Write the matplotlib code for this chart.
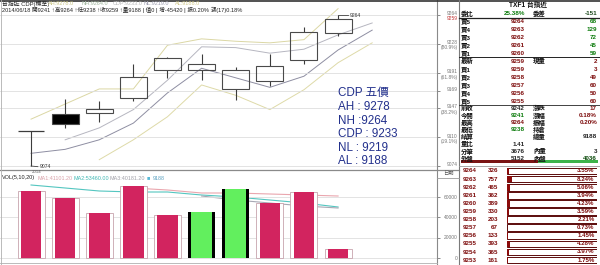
import numpy as np
import matplotlib
matplotlib.use("Agg")
import matplotlib.pyplot as plt
import matplotlib.transforms as mtrans

plt.rcParams['font.family'] = ['Liberation Sans', 'Noto Sans CJK TC', 'DejaVu Sans']

# daily bars, 台指近
opens  = [9118, 9140, 9141, 9160, 9195, 9195, 9171, 9181, 9207, 9241]
highs  = [9118, 9158, 9156, 9202, 9211, 9215, 9199, 9215, 9249, 9264]
lows   = [9074, 9122, 9129, 9156, 9185, 9182, 9157, 9175, 9202, 9238]
closes = [9118, 9127, 9146, 9186, 9210, 9202, 9195, 9200, 9243, 9259]

# channel lines (the last point runs one bar ahead)
band_upper = [9133, 9152, 9171, 9171, 9226, 9234, 9231, 9229, 9233, 9272]
band_mid1  = [np.nan, 9107, 9122, 9145, 9182, 9224, 9223, 9216, 9221, 9239, 9254]
band_mid2  = [9090, 9095, 9107, 9128, 9166, 9197, 9185, 9173, 9187, 9220, 9245]
band_lower = [np.nan, np.nan, 9082, 9107, 9136, 9176, 9163, 9145, 9170, 9204, 9229]

# fibonacci levels on the price axis
fib_levels = [9264, 9228, 9191, 9169, 9147, 9110, 9074]
fib_pct    = ['', '(80.9%)', '(61.8%)', '', '(38.2%)', '(19.1%)', '']

# volume
volumes  = [66000, 59100, 44300, 70900, 42400, 45300, 68000, 54200, 65000, 9188]
vol_red  = [True, True, True, True, True, False, False, True, True, True]
vol_ma1  = [np.nan, np.nan, np.nan, 68950, 66980, 64025, 64025, 63040, 62055, 61070]
vol_ma2  = [71905, 68950, 66000, 65010, 65010, 62055, 60085, 57130, 54175, 50235]
vol_ma3  = [np.nan] * 5 + [61070, 57130, 54175, 51220, 49250]
vol_ticks = [0, 20000, 40000, 60000]

# CDP five prices
cdp_names  = ['AH', 'NH', 'CDP', 'NL', 'AL']
cdp_seps   = [' : ', ' :', ' : ', ' : ', ' : ']
cdp_values = [9278, 9264, 9233, 9219, 9188]

# quote board
ask_labels = ['賣5', '賣4', '賣3', '賣2', '賣1']
ask_prices = [9264, 9263, 9262, 9261, 9260]
ask_qty    = [68, 129, 72, 45, 59]
bid_labels = ['買1', '買2', '買3', '買4', '買5']
bid_prices = [9259, 9258, 9257, 9256, 9255]
bid_qty    = [3, 49, 60, 50, 60]
outer_vol, inner_vol = 5152, 4036

# price ladder
ladder_prices = [9264, 9263, 9262, 9261, 9260, 9259, 9258, 9257, 9256, 9255, 9254, 9253]
ladder_vol    = [326, 757, 465, 362, 389, 330, 203, 67, 133, 393, 365, 161]
ladder_pct    = [3.55, 8.24, 5.06, 3.94, 4.23, 3.59, 2.21, 0.73, 1.45, 4.28, 3.97, 1.75]

MAROON = '#7c0a0a'
GREEN = '#0a7a0a'
W, H = 600, 265
fig = plt.figure(figsize=(6, 2.65), dpi=100)
fig.patch.set_facecolor('white')


def px_axes(x0, y0, x1, y1):
    return fig.add_axes([x0 / W, 1 - y1 / H, (x1 - x0) / W, (y1 - y0) / H])


n = len(opens)
idx = np.arange(n)
idx_ext = np.arange(n + 1)

# ---------------- price panel ----------------
ax = px_axes(0, 0, 437, 170)
ax.set_xlim(-0.91, 11.9)
ax.set_ylim(9069.0, 9282.9)
for s in ['top', 'left', 'bottom']:
    ax.spines[s].set_visible(False)
ax.spines['right'].set_color('#8a8a8a')
ax.spines['right'].set_linewidth(0.8)
ax.set_xticks([])
ax.set_yticks(fib_levels)
ax.tick_params(axis='y', left=False, right=True, labelleft=False, length=2.5,
               width=0.6, color='#777777')
ax.grid(axis='y', color='#dedede', lw=0.6)

ax.plot(idx[:len(band_upper)], band_upper, color='#dbd7a4', lw=0.7, zorder=1)
ax.plot(idx_ext, band_mid1, color='#b6b6c0', lw=0.7, zorder=1)
ax.plot(idx_ext, band_mid2, color='#8e8ea2', lw=0.7, zorder=1)
ax.plot(idx_ext, band_lower, color='#dedaa8', lw=0.7, zorder=1)

for i in range(n):
    o, h, l, c = opens[i], highs[i], lows[i], closes[i]
    top, bot = max(o, c), min(o, c)
    ax.vlines(i, top, h, color='#3c3c3c', lw=0.8, zorder=2)
    ax.vlines(i, l, bot, color='#3c3c3c', lw=0.8, zorder=2)
    if c == o:
        ax.hlines(c, i - 0.39, i + 0.39, color='#3c3c3c', lw=0.9, zorder=3)
    else:
        ax.bar(i, top - bot, bottom=bot, width=0.79,
               facecolor='black' if c < o else 'none',
               edgecolor='#4a4a4a', lw=0.8, zorder=3)

# high / low markers
hi = int(np.argmax(highs))
lo = int(np.argmin(lows))
ax.plot([hi, hi + 0.3], [highs[hi], highs[hi]], color='#444444', lw=0.6)
ax.text(hi + 0.33, highs[hi], str(highs[hi]), fontsize=3.6, va='center', color='#333333')
ax.plot([lo, lo + 0.2], [lows[lo], lows[lo] - 0.8], color='#444444', lw=0.6)
ax.text(lo + 0.25, lows[lo] - 0.8, str(lows[lo]), fontsize=3.6, va='center', color='#333333')

blend = mtrans.blended_transform_factory(ax.transAxes, ax.transData)
xlab = 457.5 / 437
for lvl, pct in zip(fib_levels, fib_pct):
    ax.annotate(str(lvl), xy=(xlab, lvl), xycoords=blend, xytext=(0, 0.9),
                textcoords='offset points', ha='right', va='center',
                fontsize=3.5, color='#777777', annotation_clip=False)
    if pct:
        ax.annotate(pct, xy=(xlab, lvl), xycoords=blend, xytext=(0, -2.9),
                    textcoords='offset points', ha='right', va='center',
                    fontsize=3.5, color='#777777', annotation_clip=False)
ax.annotate(str(closes[-1]), xy=(xlab, closes[-1]), xycoords=blend, xytext=(0, 0),
            textcoords='offset points', ha='right', va='center',
            fontsize=3.5, color='#c03030', annotation_clip=False)

# ---------------- volume panel ----------------
vax = px_axes(0, 170, 437, 265)
vax.set_xlim(-0.91, 11.9)
vax.set_ylim(-6895, 86680)
for s in ['top', 'left', 'bottom']:
    vax.spines[s].set_visible(False)
vax.spines['right'].set_color('#8a8a8a')
vax.spines['right'].set_linewidth(0.8)
vax.set_xticks([])
vax.set_yticks(vol_ticks)
vax.tick_params(axis='y', left=False, right=True, labelleft=False, length=2.5,
                width=0.6, color='#777777')
vax.grid(axis='y', color='#dedede', lw=0.6)

vax.plot(idx, vol_ma1, color='#eaa6ae', lw=0.8, zorder=1)
vax.plot(idx, vol_ma2, color='#54c6c0', lw=0.8, zorder=1)
vax.plot(idx, vol_ma3, color='#a8a8b4', lw=0.8, zorder=1)

for i in range(n):
    if vol_red[i]:
        vax.bar(i, volumes[i], width=0.79, color='white', edgecolor='#c7a3ad', lw=0.6, zorder=2)
        vax.bar(i, volumes[i], width=0.6, color='#d2245f', zorder=3)
    else:
        vax.bar(i, volumes[i], width=0.79, color='black', zorder=2)
        vax.bar(i, volumes[i], width=0.6, color='#62ef5e', zorder=3)

vblend = mtrans.blended_transform_factory(vax.transAxes, vax.transData)
for t in vol_ticks:
    vax.text(xlab, t, str(t), transform=vblend, ha='right', va='center',
             fontsize=3.5, color='#777777', clip_on=False)

# ---------------- ladder bars ----------------
lax = px_axes(507, 166.95, 597, 264.15)
rows = np.arange(len(ladder_prices))
lax.set_ylim(len(rows) - 0.5, -0.5)
lax.set_xlim(0, 150)
lax.axis('off')
lax.barh(rows, 150, height=0.82, color='white', edgecolor='#5a0a0a', lw=0.7)
lax.barh(rows, ladder_pct, height=0.82, color='#8b0b0b')
for r, p in zip(rows, ladder_pct):
    lax.text(146, r, f'{p:.2f}%', ha='right', va='center', fontsize=4.4,
             fontweight='bold', color=MAROON)

# inner / outer volume strip
bax = px_axes(461, 159.6, 598, 163.0)
bax.set_xlim(0, outer_vol + inner_vol)
bax.axis('off')
bax.barh(0, outer_vol, height=1, color='#7a1414')
bax.barh(0, inner_vol, left=outer_vol, height=1, color='#3db34a')

# ---------------- overlay: headers, table text ----------------
ov = px_axes(0, 0, 600, 265)
ov.set_xlim(0, 600)
ov.set_ylim(265, 0)
ov.axis('off')
ov.patch.set_alpha(0)

ov.plot([0, 600], [0.6, 0.6], color='#333333', lw=1.2)
ov.plot([0, 459], [170.2, 170.2], color='#8a8a8a', lw=0.9)
ov.plot([459, 459], [0, 265], color='#7a7a7a', lw=0.8)
ov.plot([437, 459], [177.5, 177.5], color='#9a9a9a', lw=0.6)
ov.plot([0, 437], [262.5, 262.5], color='#b0b0b0', lw=0.6)
ov.plot([1, 1], [0, 265], color='#b0b0b0', lw=0.6)

ov.text(2, 3.6, '台指近 CDP(標準)', fontsize=4.2, va='center', color='#222222')
hdr_cols = ['#c9c483', '#9fb59c', '#b9b9b9', '#9c9cae', '#d3ca8a']
hdr_x = [48, 82, 113, 143, 175]
for nm, v, cx, cc in zip(cdp_names, cdp_values, hdr_x, hdr_cols):
    ov.text(cx, 3.6, f'{nm}:{v}.0', fontsize=4.0, va='center', color=cc)
ov.text(2, 10.2, '2014/06/18 開9241 ↑高9264 ↑低9238 ↑收9259 ↑量9188 | 值0 | 增-45420 | 振0.20% 漲(17)0.18%',
        fontsize=4.1, va='center', color='#222222')

ov.text(32, 172.4, '2014', fontsize=3.2, va='center', color='#666666')
ov.text(2, 178, 'VOL(5,10,20)', fontsize=4.0, va='center', color='#222222')
ov.text(37, 178, 'MA1:41101.20', fontsize=3.9, va='center', color='#d8a0a8')
ov.text(73, 178, 'MA2:53460.00', fontsize=3.9, va='center', color='#3fb8b4')
ov.text(110, 178, 'MA3:40181.20', fontsize=3.9, va='center', color='#a0a0a8')
ov.text(147, 178, '■', fontsize=4.0, va='center', color='#59b9d6')
ov.text(153, 178, str(volumes[-1]), fontsize=3.9, va='center', color='#59a0c0')
ov.text(448, 173.8, '日期', fontsize=3.8, ha='center', va='center', color='#555555')

# CDP block
ov.text(338, 93, 'CDP 五價', fontsize=8.4, va='center', color='#22308c')
for k, (nm, sp, v) in enumerate(zip(cdp_names, cdp_seps, cdp_values)):
    ov.text(338, 107 + 13.6 * k, f'{nm}{sp}{v}', fontsize=8.4, va='center', color='#22308c')

# quote board
LFS, NFS = 4.6, 4.5
ov.text(528, 5.5, 'TXF1 台指近', fontsize=4.8, ha='center', va='center', fontweight='bold', color='#111111')


def board_row(y, lab, val, vcol, lab2='', val2='', v2col='#111111'):
    ov.text(460.5, y, lab, fontsize=LFS, va='center', fontweight='bold', color='#111111')
    if val != '':
        ov.text(525, y, val, fontsize=NFS, ha='right', va='center', fontweight='bold', color=vcol)
    if lab2:
        ov.text(533, y, lab2, fontsize=LFS, va='center', fontweight='bold', color='#111111')
    if val2 != '':
        ov.text(597, y, val2, fontsize=NFS, ha='right', va='center', fontweight='bold', color=v2col)


board_row(13.8, '委比', '25.38%', GREEN, '委差', '-151', '#1c4a1c')
ov.plot([459, 600], [17.6, 17.6], color='#222222', lw=0.9)
for k in range(5):
    board_row(21.2 + 8 * k, ask_labels[k], str(ask_prices[k]), MAROON, '', str(ask_qty[k]), GREEN)
ov.plot([459, 600], [57.2, 57.2], color='#222222', lw=0.7)
board_row(61.2, '最新', str(closes[-1]), MAROON, '現量', '2', MAROON)
for k in range(5):
    board_row(69.2 + 8 * k, bid_labels[k], str(bid_prices[k]), MAROON, '', str(bid_qty[k]), MAROON)
ov.plot([459, 600], [104.6, 104.6], color='#222222', lw=0.6)
extra = [
    ('前收', '9242', '#222222', '漲跌', '17', MAROON),
    ('今開', str(opens[-1]), GREEN, '漲幅', '0.18%', MAROON),
    ('最高', str(highs[-1]), MAROON, '振幅', '0.20%', MAROON),
    ('最低', str(lows[-1]), GREEN, '持倉', '', '#222222'),
    ('結算', '', '#222222', '總量', str(volumes[-1]), '#222222'),
    ('量比', '1.41', '#222222', '', '', '#222222'),
    ('分筆', '3676', '#222222', '內量', '3', '#222222'),
    ('外盤', str(outer_vol), '#222222', '內盤', str(inner_vol), '#0b4a0b'),
]
for k, row in enumerate(extra):
    board_row(108.2 + 7.2 * k, *row)

ov.plot([459, 600], [165.5, 165.5], color='#9a9a9a', lw=0.6)
for r, (p, v) in enumerate(zip(ladder_prices, ladder_vol)):
    y = 171 + 8.1 * r
    ov.text(477, y, str(p), fontsize=4.5, ha='right', va='center', fontweight='bold', color=MAROON)
    ov.text(498, y, str(v), fontsize=4.5, ha='right', va='center', fontweight='bold', color=MAROON)

fig.savefig('out.png', dpi=100, facecolor='white')
